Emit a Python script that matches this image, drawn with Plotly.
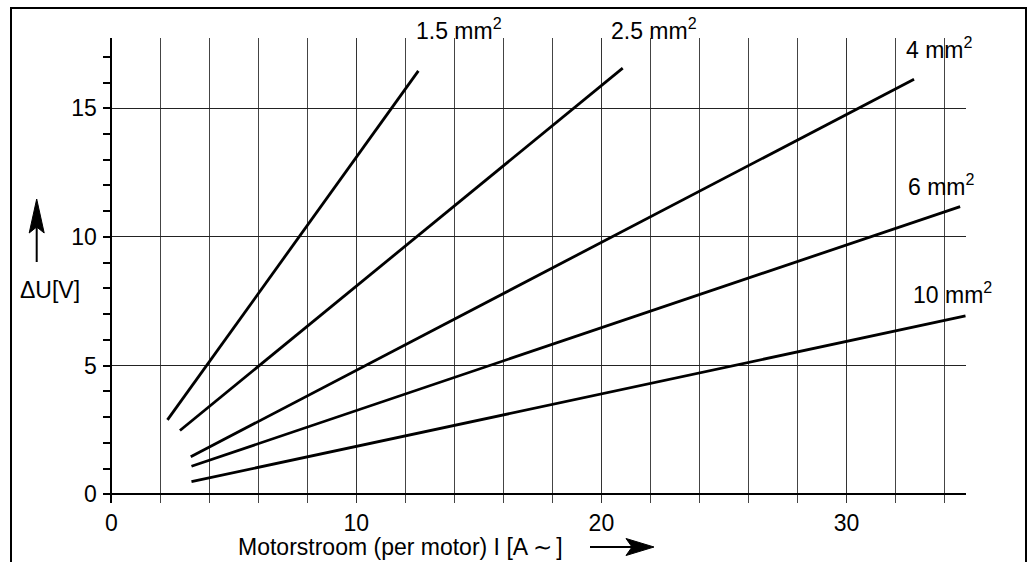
import plotly.graph_objects as go

# ---- data ----
sections = ["1.5 mm<sup>2</sup>", "2.5 mm<sup>2</sup>", "4 mm<sup>2</sup>", "6 mm<sup>2</sup>", "10 mm<sup>2</sup>"]
current_start = [2.29, 2.80, 3.24, 3.27, 3.27]
current_end = [12.53, 20.87, 32.76, 34.64, 34.86]
du_start = [2.89, 2.48, 1.46, 1.09, 0.49]
du_end = [16.45, 16.56, 16.13, 11.18, 6.93]

x_ticks = [0, 10, 20, 30]
y_ticks = [0, 5, 10, 15]

FONT = "Liberation Sans, Arial, sans-serif"
FS = 23
W, H = 1028, 562
ML, MR, MT, MB = 104, 62, 38, 59
PW, PH = W - ML - MR, H - MT - MB


def px(xp):
    return (xp - ML) / PW


def py(yp):
    return (H - MB - yp) / PH


fig = go.Figure()
for name, x0, x1, y0, y1 in zip(sections, current_start, current_end, du_start, du_end):
    fig.add_trace(go.Scatter(x=[x0, x1], y=[y0, y1], mode="lines",
                             line=dict(color="black", width=2.8),
                             name=name, showlegend=False, hoverinfo="skip"))

# line labels (left edge in pixels, vertical centre in pixels)
label_pos = [(414, 29), (609, 29), (904, 48), (906, 185), (911, 293)]
for name, (lx, ly) in zip(sections, label_pos):
    fig.add_annotation(x=px(lx), y=py(ly), xref="paper", yref="paper", text=name,
                       showarrow=False, xanchor="left", yanchor="middle",
                       font=dict(family=FONT, size=FS, color="black"))

# axis titles
fig.add_annotation(x=px(49.5), y=py(290), xref="paper", yref="paper", text="ΔU[V]",
                   showarrow=False, xanchor="center", yanchor="middle",
                   font=dict(family=FONT, size=FS, color="black"))
fig.add_annotation(x=px(236), y=py(547), xref="paper", yref="paper",
                   text="Motorstroom (per motor) I [A\u2009∼\u2009]",
                   showarrow=False, xanchor="left", yanchor="middle",
                   font=dict(family=FONT, size=FS, color="black"))


def path(points):
    return "M " + " L ".join(f"{px(a)} {py(b)}" for a, b in points) + " Z"


# arrows next to the axis titles
fig.add_shape(type="line", xref="paper", yref="paper",
              x0=px(36.7), y0=py(262), x1=px(36.7), y1=py(226),
              line=dict(color="black", width=2))
fig.add_shape(type="path", xref="paper", yref="paper",
              path=path([(36.7, 199), (29.2, 233), (36.7, 227), (44.2, 233)]),
              fillcolor="black", line=dict(color="black", width=1))
fig.add_shape(type="line", xref="paper", yref="paper",
              x0=px(590), y0=py(547), x1=px(633), y1=py(547),
              line=dict(color="black", width=2))
fig.add_shape(type="path", xref="paper", yref="paper",
              path=path([(654, 547), (626, 538.5), (632, 547), (626, 555.5)]),
              fillcolor="black", line=dict(color="black", width=1))

# outer frame
fig.add_shape(type="path", xref="paper", yref="paper",
              path=f"M {px(11)} {py(600)} L {px(11)} {py(8)} L {px(1026)} {py(8)} L {px(1026)} {py(600)}",
              line=dict(color="black", width=2))

x0_px = ML + 0.3 * 24.5

fig.update_layout(
    width=W, height=H,
    margin=dict(l=ML, r=MR, t=MT, b=MB, pad=0),
    paper_bgcolor="white", plot_bgcolor="white",
    font=dict(family=FONT, size=FS, color="black"),
    xaxis=dict(range=[-0.3, 34.88], tickvals=x_ticks, ticktext=[str(v) for v in x_ticks],
               showgrid=True, gridcolor="#333333", gridwidth=1,
               minor=dict(dtick=2, tick0=0, showgrid=True, gridcolor="#444444", gridwidth=1),
               zeroline=False, showline=True, linecolor="black", linewidth=1.5,
               anchor="free", position=(0.338) / (17.73 + 0.338),
               ticks="", ticklabelstandoff=8,
               tickfont=dict(family=FONT, size=FS, color="black")),
    yaxis=dict(range=[-0.338, 17.73], tickvals=y_ticks, ticktext=[str(v) for v in y_ticks],
               showgrid=True, gridcolor="#222222", gridwidth=1,
               minor=dict(dtick=1, tick0=0, ticks="outside", ticklen=7, tickcolor="black",
                          tickwidth=1.5, showgrid=False),
               ticks="outside", ticklen=7, tickcolor="black", tickwidth=1.5,
               zeroline=False, showline=True, linecolor="black", linewidth=2,
               anchor="free", position=px(x0_px),
               ticklabelstandoff=2,
               tickfont=dict(family=FONT, size=FS, color="black")),
)

fig.write_html("out.html")
